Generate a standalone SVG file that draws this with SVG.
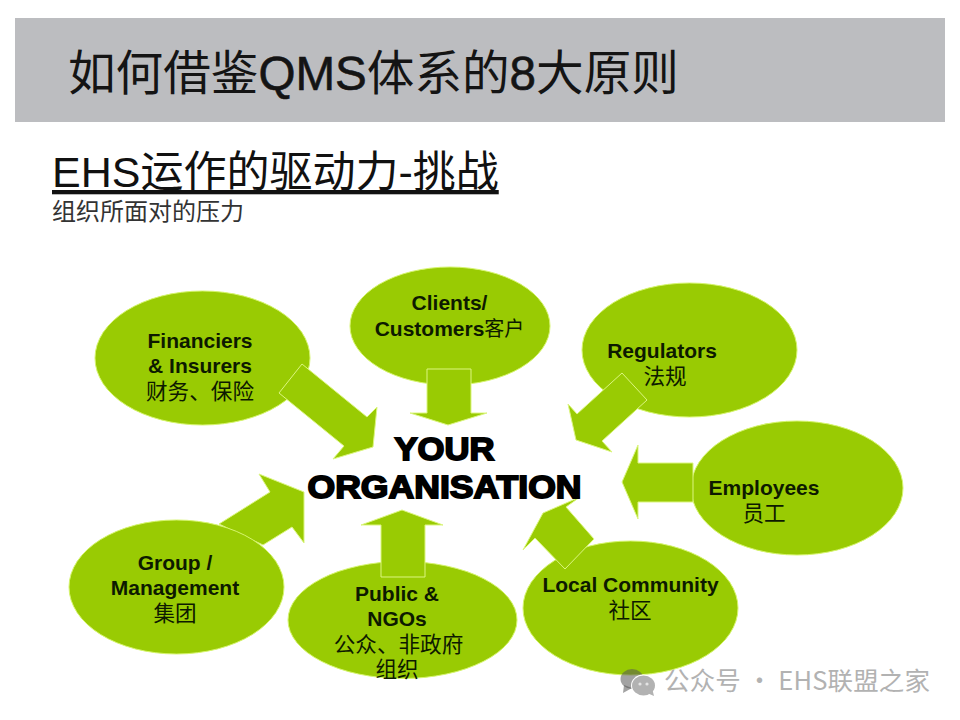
<svg xmlns="http://www.w3.org/2000/svg" width="960" height="720" viewBox="0 0 960 720">
<style>
.el{fill:#99cb03;stroke:#d6f56e;stroke-width:1}
.ar{fill:#99cb03;stroke:#dcf680;stroke-width:1;stroke-linejoin:miter}
text{font-family:"Liberation Sans","Noto Sans CJK SC",sans-serif}
.lb{font-size:21px;font-weight:bold;fill:#0d1a00;text-anchor:middle}
.cj{font-size:21.6px;fill:#0d1a00;text-anchor:middle}
.org{font-size:32px;font-weight:bold;fill:#000;stroke:#000;stroke-width:1.8;text-anchor:middle}
.st{stroke-width:.6}
</style>
<rect width="960" height="720" fill="#fff"/>
<g id="header">
<rect x="15" y="18" width="930" height="104" fill="#bcbdc0"/>
<text x="68" y="90" font-size="47.6" fill="#141414">如何借鉴<tspan class="st" stroke="#141414">QMS</tspan>体系的<tspan class="st" stroke="#141414">8</tspan>大原则</text>
<text x="52" y="187" font-size="43" fill="#111" text-decoration="underline">EHS运作的驱动力-挑战</text>
<text x="52" y="220" font-size="24" fill="#333">组织所面对的压力</text>
</g>
<g id="connector-behind">
<polygon class="ar" points="219,524 270,492 259,474 304,492 304,543 292,527 263,545"/>
</g>
<g id="node-financiers"><ellipse class="el" cx="202.5" cy="358" rx="107.5" ry="67"/></g>
<g id="node-clients"><ellipse class="el" cx="450" cy="326" rx="100" ry="59"/></g>
<g id="node-regulators"><ellipse class="el" cx="689.5" cy="350" rx="107.5" ry="67"/></g>
<g id="node-employees"><ellipse class="el" cx="797" cy="488" rx="106" ry="67"/></g>
<g id="node-local"><ellipse class="el" cx="630.5" cy="608" rx="107.5" ry="67"/></g>
<g id="node-group"><ellipse class="el" cx="176.5" cy="587" rx="107.5" ry="67"/></g>
<g id="node-public"><ellipse class="el" cx="402.5" cy="620" rx="114.5" ry="58.5"/></g>
<g id="connectors">
<polygon class="ar" points="302,364 367,417 377,407 373,447 333,459 344,446 279,393"/>
<polygon class="ar" points="427,369 471,369 471,413 487,413 448,425 410,413 427,413"/>
<polygon class="ar" points="622,373 647,400 602,441 612,452 576,440 568,404 577,414"/>
<polygon class="ar" points="693,463 693,502 638,502 638,519 622,482 638,445 638,463"/>
<polygon class="ar" points="565,569 594,539 566,507 580,497 543,513 523,550 535,538"/>
<polygon class="ar" points="381,577 425,577 425,525 443,525 402,510 361,525 381,525"/>
</g>
<g id="labels">
<text class="lb" x="200" y="348">Financiers</text>
<text class="lb" x="200" y="373">&amp; Insurers</text>
<text class="cj" x="200" y="399">财务、保险</text>
<text class="lb" x="449.5" y="310">Clients/</text>
<text class="lb" x="449.5" y="336"><tspan>Customers</tspan><tspan font-weight="normal" font-size="20">客户</tspan></text>
<text class="lb" x="662" y="358">Regulators</text>
<text class="cj" x="665" y="384">法规</text>
<text class="lb" x="764" y="495">Employees</text>
<text class="cj" x="764" y="521">员工</text>
<text class="lb" x="630.5" y="592">Local Community</text>
<text class="cj" x="630" y="618">社区</text>
<text class="lb" x="175" y="570">Group /</text>
<text class="lb" x="175" y="595">Management</text>
<text class="cj" x="175" y="621">集团</text>
<text class="lb" x="397" y="601">Public &amp;</text>
<text class="lb" x="397" y="626">NGOs</text>
<text class="cj" x="398.5" y="652">公众、非政府</text>
<text class="cj" x="397" y="677">组织</text>
</g>
<g id="node-center">
<text class="org" x="444.5" y="460" textLength="100" lengthAdjust="spacingAndGlyphs">YOUR</text>
<text class="org" x="444.5" y="498" textLength="274" lengthAdjust="spacingAndGlyphs">ORGANISATION</text>
</g>
<g id="watermark">
<g fill="#555" fill-opacity=".55">
<ellipse cx="632" cy="679" rx="11.5" ry="10"/>
<polygon points="624,685 623,693 632,688"/>
</g>
<ellipse cx="643.5" cy="685.5" rx="12.5" ry="11" fill="#fff"/>
<ellipse cx="643.5" cy="685.5" rx="11.5" ry="10" fill="#b2b2b2"/>
<polygon points="647,693 654,696 652,688" fill="#b2b2b2"/>
<circle cx="640" cy="684" r="1.6" fill="#e4e4e4"/>
<circle cx="647" cy="684" r="1.6" fill="#e4e4e4"/>
<text x="664" y="690" font-size="25.5" fill="#b2b2b2" textLength="266" style="font-family:'Noto Sans CJK SC','Liberation Sans',sans-serif">公众号 · EHS联盟之家</text>
</g>
</svg>
